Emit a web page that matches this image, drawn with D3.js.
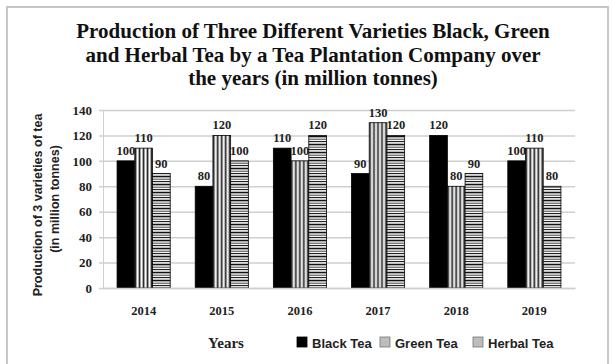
<!DOCTYPE html>
<html>
<head>
<meta charset="utf-8">
<script src="https://cdn.jsdelivr.net/npm/d3@7/dist/d3.min.js"></script>
<style>
  html, body { margin: 0; padding: 0; background: #fff; }
  svg { display: block; }
</style>
</head>
<body>
<svg id="chart" width="613" height="364"></svg>
<script>
// Tea production (million tonnes) by year and variety
const years = ["2014", "2015", "2016", "2017", "2018", "2019"];
const seriesNames = ["Black Tea", "Green Tea", "Herbal Tea"];
const blackTea = [100, 80, 110, 90, 120, 100];
const greenTea = [110, 120, 100, 130, 80, 110];
const herbalTea = [90, 100, 120, 120, 90, 80];
const yTicks = [0, 20, 40, 60, 80, 100, 120, 140];
const titleLines = [
  "Production of Three Different Varieties Black, Green",
  "and Herbal Tea by a Tea Plantation Company over",
  "the years (in million tonnes)"
];

const seriesValues = [blackTea, greenTea, herbalTea];
const svg = d3.select("#chart");
const plot = { left: 103, right: 575, top: 110, bottom: 288 };
const serif = "'Liberation Serif', 'Times New Roman', serif";
const sans = "'Liberation Sans', Arial, sans-serif";

// fill patterns
const defs = svg.append("defs");
const pGreen = defs.append("pattern").attr("id", "pat-green")
  .attr("patternUnits", "userSpaceOnUse").attr("width", 4).attr("height", 4);
pGreen.append("rect").attr("width", 4).attr("height", 4).attr("fill", "#a8a8a8");
pGreen.append("rect").attr("x", 0).attr("width", 1).attr("height", 4).attr("fill", "#ffffff");
pGreen.append("rect").attr("x", 2).attr("width", 1).attr("height", 4).attr("fill", "#222");

const pHerbal = defs.append("pattern").attr("id", "pat-herbal")
  .attr("patternUnits", "userSpaceOnUse").attr("width", 6).attr("height", 8);
pHerbal.append("rect").attr("width", 6).attr("height", 8).attr("fill", "#f2f2f2");
pHerbal.append("rect").attr("y", 0).attr("width", 6).attr("height", 1.3).attr("fill", "#111");
pHerbal.append("rect").attr("y", 2.6).attr("width", 6).attr("height", 1.4).attr("fill", "#7a7a7a");
pHerbal.append("rect").attr("y", 5).attr("width", 6).attr("height", 1.1).attr("fill", "#222");
pHerbal.append("rect").attr("y", 7).attr("width", 6).attr("height", 0.7).attr("fill", "#a5a5a5");

const fills = ["#000", "url(#pat-green)", "url(#pat-herbal)"];

// outer frame
svg.append("rect").attr("x", 7).attr("y", 7).attr("width", 601).attr("height", 370)
  .attr("fill", "none").attr("stroke", "#c8c8c8").attr("stroke-width", 2);

// title
svg.append("g").selectAll("text").data(titleLines).join("text")
  .attr("x", 313).attr("y", (d, i) => 38 + i * 23.5)
  .attr("text-anchor", "middle")
  .attr("font-family", serif).attr("font-weight", "bold").attr("font-size", 21)
  .attr("fill", "#111").text(d => d);

// scales
const x = d3.scaleBand().domain(years).range([plot.left, plot.right])
  .paddingInner(0.32).paddingOuter(0.18);
const xs = d3.scaleBand().domain(seriesNames).range([0, x.bandwidth()]);
const y = d3.scaleLinear().domain([0, 140]).range([plot.bottom, plot.top]);

// gridlines + left axis
const yAxis = d3.axisLeft(y).tickValues(yTicks)
  .tickSize(-(plot.right - plot.left)).tickSizeOuter(0).tickPadding(11);
const gy = svg.append("g").attr("transform", `translate(${plot.left},0)`).call(yAxis);
gy.select(".domain").attr("stroke", "#cfcfcf");
gy.selectAll(".tick line").attr("stroke", "#cfcfcf").attr("stroke-width", 1.5)
  .attr("x1", -4);
gy.selectAll(".tick text").attr("font-family", serif).attr("font-weight", "bold")
  .attr("font-size", 13).attr("fill", "#222");

// bars
const groups = svg.append("g").selectAll("g").data(years).join("g")
  .attr("transform", d => `translate(${x(d)},0)`);
seriesNames.forEach((name, si) => {
  groups.append("rect")
    .attr("x", xs(name))
    .attr("y", (d, i) => y(seriesValues[si][i]))
    .attr("width", xs.bandwidth())
    .attr("height", (d, i) => y(0) - y(seriesValues[si][i]))
    .attr("fill", fills[si])
    .attr("stroke", "#000").attr("stroke-width", 0.8);
  groups.append("text")
    .attr("x", xs(name) + xs.bandwidth() / 2)
    .attr("y", (d, i) => y(seriesValues[si][i]) - 6)
    .attr("text-anchor", "middle")
    .attr("font-family", serif).attr("font-weight", "bold").attr("font-size", 12.5)
    .attr("fill", "#222")
    .text((d, i) => seriesValues[si][i]);
});

// x axis
const xAxis = d3.axisBottom(x).tickSize(0).tickPadding(18);
const gx = svg.append("g").attr("transform", `translate(0,${plot.bottom})`).call(xAxis);
gx.select(".domain").attr("stroke", "#cfcfcf").attr("stroke-width", 1.5);
gx.selectAll(".tick text").attr("font-family", serif).attr("font-weight", "bold")
  .attr("font-size", 12.5).attr("fill", "#222");

// axis titles
svg.append("text")
  .attr("transform", `translate(42,${(plot.top + plot.bottom) / 2 + 6}) rotate(-90)`)
  .attr("text-anchor", "middle")
  .attr("font-family", sans).attr("font-weight", "bold").attr("font-size", 12.5)
  .attr("fill", "#222").text("Production of 3 varieties of tea");
svg.append("text")
  .attr("transform", `translate(59,${(plot.top + plot.bottom) / 2}) rotate(-90)`)
  .attr("text-anchor", "middle")
  .attr("font-family", sans).attr("font-weight", "bold").attr("font-size", 12.5)
  .attr("fill", "#222").text("(in million tonnes)");
svg.append("text").attr("x", 226).attr("y", 348).attr("text-anchor", "middle")
  .attr("font-family", serif).attr("font-weight", "bold").attr("font-size", 15)
  .attr("fill", "#222").text("Years");

// legend
const legendX = [297, 380, 473];
const legend = svg.append("g").selectAll("g").data(seriesNames).join("g")
  .attr("transform", (d, i) => `translate(${legendX[i]},337)`);
legend.append("rect").attr("width", 10).attr("height", 10)
  .attr("fill", (d, i) => i === 0 ? "#000" : "#bdbdbd")
  .attr("stroke", (d, i) => i === 0 ? "#000" : "#777").attr("stroke-width", 0.8);
legend.append("text").attr("x", 15).attr("y", 10.5)
  .attr("font-family", sans).attr("font-weight", "bold").attr("font-size", 13)
  .attr("fill", "#222").text(d => d);
</script>
</body>
</html>
